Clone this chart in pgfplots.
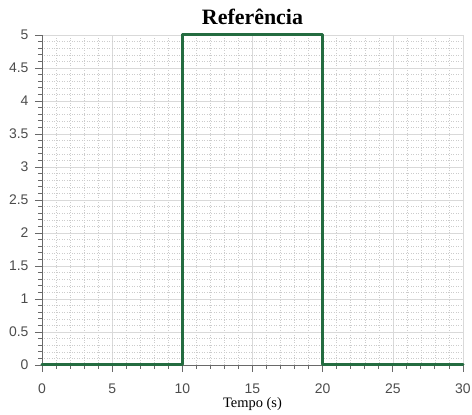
\documentclass[border=0pt]{standalone}
\usepackage{pgfplots}
\pgfplotsset{compat=1.18}
\usepackage{fontspec}
\setmainfont{Liberation Serif}
\newfontfamily\tickfont{Liberation Sans}
\definecolor{lineg}{RGB}{36,108,64}
\definecolor{axg}{RGB}{105,105,105}
\begin{document}
\begin{tikzpicture}
\begin{axis}[
  scale only axis,
  width=421bp, height=330bp,
  xmin=0, xmax=30, ymin=0, ymax=5,
  axis x line=bottom, axis y line=left,
  axis line style={-, draw=axg, line width=0.9bp},
  xtick={0,5,...,30},
  ytick={0,0.5,...,5},
  minor x tick num=4,
  minor y tick num=4,
  tick align=outside,
  major tick length=7bp,
  minor tick length=4bp,
  every tick/.style={draw=axg, line width=0.9bp},
  grid=both,
  major grid style={draw=gray!30, line width=0.6bp},
  minor grid style={draw=gray!40, line width=0.5bp, dotted},
  /pgf/number format/assume math mode=true,
  ticklabel style={font=\tickfont\fontsize{14}{15}\selectfont, text=black!70},
  xticklabel style={anchor=base, yshift=-22bp},
  yticklabel style={/pgf/number format/fixed, xshift=-3bp},
  title={\textbf{Referência}},
  title style={font=\fontsize{22}{24}\selectfont, at={(0.5,1)}, anchor=base, yshift=5bp},
  xlabel={Tempo (s)},
  xlabel style={font=\fontsize{14.5}{16}\selectfont, at={(0.5,0)}, anchor=base, yshift=-43bp},
  clip=false,
]
\addplot[lineg, line width=3bp, line join=round, line cap=round] coordinates {
  (0,0) (10,0) (10,5) (20,5) (20,0) (30,0)
};
\coordinate (ll) at (rel axis cs:0,0);
\coordinate (ur) at (rel axis cs:1,1);
\end{axis}
\pgfresetboundingbox
\path ([shift={(-42bp,-50bp)}]ll) rectangle ([shift={(9bp,35bp)}]ur);
\end{tikzpicture}
\end{document}
